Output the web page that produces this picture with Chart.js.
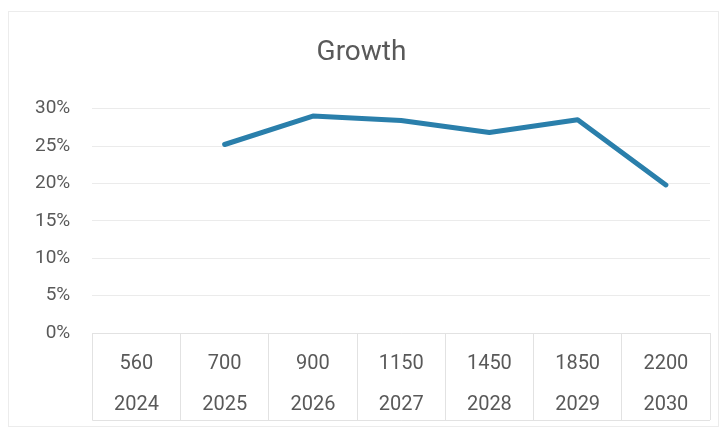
<!DOCTYPE html>
<html>
<head>
<meta charset="utf-8">
<script src="https://cdn.jsdelivr.net/npm/chart.js@4"></script>
<style>
  body { margin: 0; background: #fff; }
  #wrap { position: absolute; left: 8px; top: 11px; width: 709px; height: 414px; border: 1px solid #ececec; }
</style>
</head>
<body>
<div id="wrap"><canvas id="chart-growth"></canvas></div>
<script>
  // datos
  const years = ['2024', '2025', '2026', '2027', '2028', '2029', '2030'];
  const volumes = [560, 700, 900, 1150, 1450, 1850, 2200];
  const growth = [null, 25.2, 29.0, 28.4, 26.8, 28.5, 19.8];
  const yTicks = [0, 5, 10, 15, 20, 25, 30];

  const textColor = '#595959';
  const tableLen = 87;

  // linea inferior de la tabla bajo el eje x
  const tableBottom = {
    id: 'tableBottom',
    afterDraw(chart) {
      let x = chart.scales.x;
      let ctx = chart.ctx;
      ctx.save();
      ctx.strokeStyle = '#e2e2e2';
      ctx.lineWidth = 1;
      ctx.beginPath();
      ctx.moveTo(x.left, x.top + tableLen + 0.5);
      ctx.lineTo(x.right, x.top + tableLen + 0.5);
      ctx.stroke();
      ctx.restore();
    }
  };

  let canvasGrowth = document.getElementById('chart-growth').getContext('2d');

  let growthChart = new Chart(canvasGrowth, {
    type: 'line',
    data: {
      labels: years.map((y, i) => [String(volumes[i]), y]),
      datasets: [{
        label: 'Growth',
        data: growth,
        borderColor: '#2a7fab',
        borderWidth: 5,
        pointRadius: 0,
        tension: 0,
        borderJoinStyle: 'round',
        borderCapStyle: 'round'
      }]
    },
    options: {
      responsive: true,
      maintainAspectRatio: false,
      animation: false,
      layout: { padding: { left: 4, right: 8, top: 0, bottom: 5 } },
      plugins: {
        legend: { display: false },
        tooltip: { enabled: false },
        title: {
          display: true,
          text: 'Growth',
          color: textColor,
          font: { family: 'Roboto', size: 28, weight: 'normal' },
          padding: { top: 24, bottom: 39 }
        }
      },
      scales: {
        x: {
          offset: true,
          afterFit: s => { s.height = tableLen + 1; },
          grid: {
            offset: true,
            drawOnChartArea: false,
            drawTicks: true,
            tickLength: tableLen,
            color: '#e2e2e2'
          },
          border: { display: true, color: '#e2e2e2' },
          ticks: {
            color: textColor,
            font: { family: 'Roboto', size: 20, lineHeight: '41px' },
            padding: -77,
            maxRotation: 0,
            autoSkip: false
          }
        },
        y: {
          min: 0,
          max: 30,
          afterBuildTicks: s => { s.ticks = yTicks.map(v => ({ value: v })); },
          grid: { color: '#ebebeb', drawTicks: false },
          border: { display: false },
          ticks: {
            color: textColor,
            font: { family: 'Roboto', size: 19 },
            padding: 22,
            callback: v => v + '%'
          }
        }
      }
    },
    plugins: [tableBottom]
  });
</script>
</body>
</html>
